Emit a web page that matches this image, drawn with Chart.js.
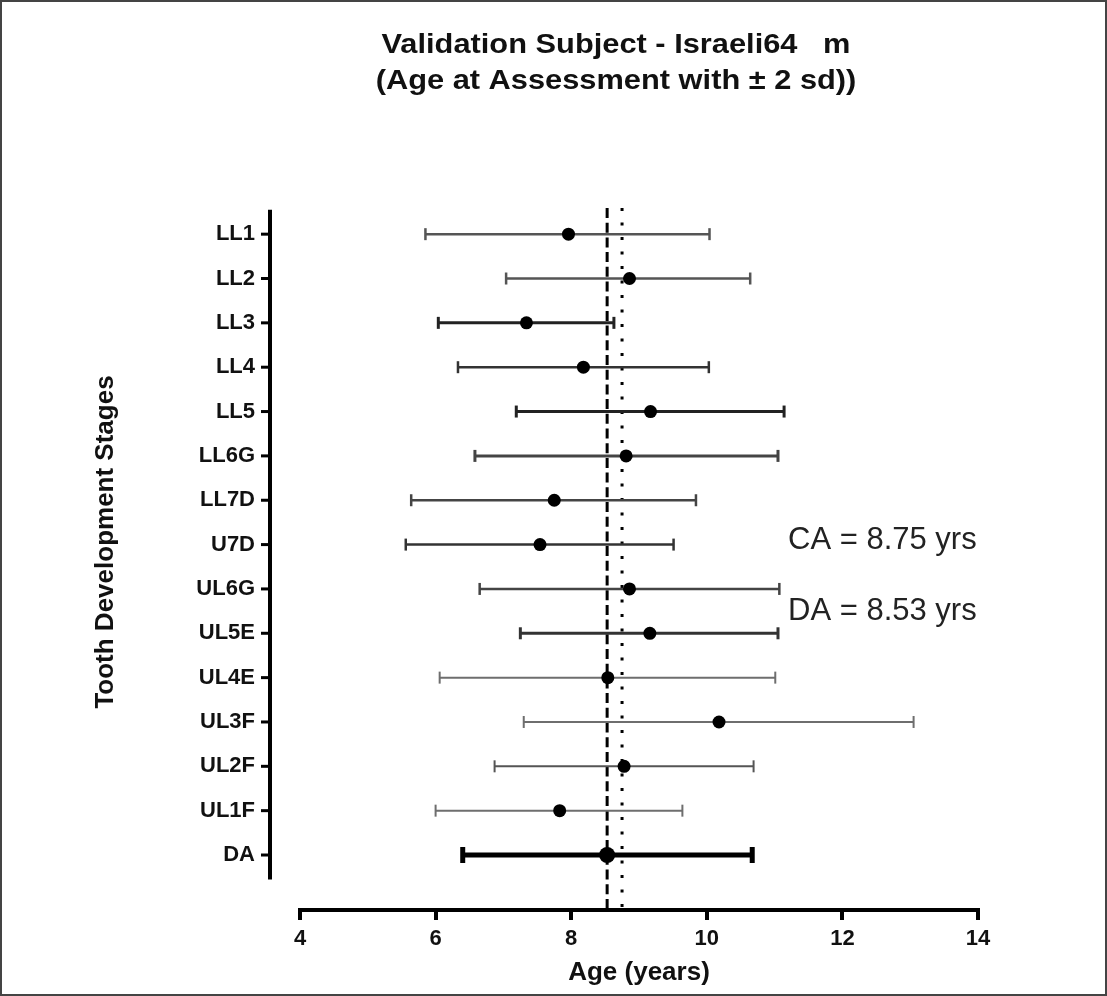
<!DOCTYPE html>
<html>
<head>
<meta charset="utf-8">
<title>Validation Subject - Israeli64 m</title>
<script src="https://cdn.jsdelivr.net/npm/chart.js@4.4.1/dist/chart.umd.min.js"></script>
<style>
html, body { margin: 0; padding: 0; background: #fff; }
#wrap { position: relative; width: 1107px; height: 996px; }
#frame { position: absolute; left: 0; top: 0; width: 1107px; height: 996px; box-sizing: border-box; border: 2px solid #444; pointer-events: none; }
</style>
</head>
<body>
<div id="wrap">
  <canvas id="myChart" width="1107" height="996"></canvas>
  <div id="frame"></div>
</div>
<script>
// data
var stages = ['LL1', 'LL2', 'LL3', 'LL4', 'LL5', 'LL6G', 'LL7D', 'U7D', 'UL6G', 'UL5E', 'UL4E', 'UL3F', 'UL2F', 'UL1F', 'DA'];
var meanAge = [7.96, 8.86, 7.34, 8.18, 9.17, 8.81, 7.75, 7.54, 8.86, 9.16, 8.54, 10.18, 8.78, 7.83, 8.53];
var lowAge = [5.85, 7.04, 6.04, 6.33, 7.19, 6.58, 5.64, 5.56, 6.65, 7.25, 6.06, 7.30, 6.87, 6.00, 6.40];
var highAge = [10.04, 10.64, 8.63, 10.03, 11.14, 11.05, 9.84, 9.51, 11.07, 11.05, 11.01, 13.05, 10.69, 9.64, 10.67];
var chronoAge = 8.75;
var dentalAge = 8.53;
var xMin = 4, xMax = 14, xStep = 2;

var titleLines = ['Validation Subject - Israeli64   m', '(Age at Assessment with \u00b1 2 sd))'];
var yTitle = 'Tooth Development Stages';

// styling per row (whisker colour / width)
var barColor = ['#555', '#555', '#222', '#333', '#222', '#444', '#444', '#333', '#444', '#333', '#6e6e6e', '#6e6e6e', '#555', '#6e6e6e', '#000'];
var barWidth = [2.5, 2.5, 3, 2.5, 3, 3, 2.5, 2.5, 2.5, 3, 2, 2, 2, 2, 5];

var FONT = 'Arial, "Liberation Sans", sans-serif';
var yMin = -0.59, yMax = 15.24;
var last = stages.length - 1;

var decorations = {
    id: 'decorations',
    afterDraw: function(chart) {
        var ctx = chart.ctx;
        var y = chart.scales.y;
        var axisX = chart.chartArea.left - 30;
        ctx.save();
        // detached y axis line + ticks
        ctx.strokeStyle = '#000';
        ctx.lineWidth = 4;
        ctx.beginPath();
        ctx.moveTo(axisX, y.getPixelForValue(-0.55));
        ctx.lineTo(axisX, y.getPixelForValue(last + 0.55));
        ctx.stroke();
        ctx.lineWidth = 3;
        stages.forEach(function(s, i) {
            var py = y.getPixelForValue(i);
            ctx.beginPath();
            ctx.moveTo(axisX - 9, py);
            ctx.lineTo(axisX, py);
            ctx.stroke();
        });

        // title, slightly wide like the original export
        ctx.fillStyle = '#111';
        ctx.textAlign = 'center';
        ctx.font = 'bold 28px ' + FONT;
        ctx.save();
        ctx.translate(616, 0);
        ctx.scale(1.1, 1);
        ctx.fillText(titleLines[0], 0, 53);
        ctx.fillText(titleLines[1], 0, 89);
        ctx.restore();

        // y axis title
        ctx.save();
        ctx.translate(113, 542);
        ctx.rotate(-Math.PI / 2);
        ctx.font = 'bold 26px ' + FONT;
        ctx.textBaseline = 'alphabetic';
        ctx.fillText(yTitle, 0, 0);
        ctx.restore();

        // CA / DA notes
        ctx.textAlign = 'left';
        ctx.fillStyle = '#222';
        ctx.font = '31px ' + FONT;
        ctx.fillText('CA = ' + chronoAge.toFixed(2) + ' yrs', 788, 549);
        ctx.fillText('DA = ' + dentalAge.toFixed(2) + ' yrs', 788, 620);
        ctx.restore();
    }
};

var whiskers = stages.map(function(s, i) {
    return {
        label: s,
        data: [{x: lowAge[i], y: i}, {x: highAge[i], y: i}],
        showLine: true,
        borderColor: barColor[i],
        borderWidth: barWidth[i],
        pointStyle: 'line',
        pointRotation: 90,
        pointRadius: i === last ? 8 : 6,
        pointBorderColor: barColor[i],
        pointBorderWidth: barWidth[i],
        pointHoverRadius: 0,
        order: 2
    };
});

var ctx = document.getElementById('myChart').getContext('2d');
var myChart = new Chart(ctx, {
    type: 'scatter',
    data: {
        datasets: [
            {
                label: 'DA',
                data: [{x: dentalAge, y: yMin}, {x: dentalAge, y: yMax}],
                showLine: true,
                borderColor: '#000',
                borderWidth: 3,
                borderDash: [10, 4.7],
                pointRadius: 0,
                order: 3
            },
            {
                label: 'CA',
                data: [{x: chronoAge, y: yMin}, {x: chronoAge, y: yMax}],
                showLine: true,
                borderColor: '#000',
                borderWidth: 3,
                borderDash: [3, 11.5],
                pointRadius: 0,
                order: 3
            }
        ].concat(whiskers, [{
            label: 'mean',
            data: stages.map(function(s, i) { return {x: meanAge[i], y: i}; }),
            backgroundColor: '#000',
            borderColor: '#000',
            pointRadius: stages.map(function(s, i) { return i === last ? 8 : 6.5; }),
            pointBorderWidth: 0,
            pointHoverRadius: 0,
            order: 1
        }])
    },
    options: {
        responsive: false,
        animation: false,
        devicePixelRatio: 1,
        layout: { padding: { top: 208, left: 0, right: 129, bottom: 0 } },
        plugins: {
            legend: { display: false },
            tooltip: { enabled: false }
        },
        scales: {
            x: {
                type: 'linear',
                position: 'bottom',
                min: xMin,
                max: xMax,
                ticks: {
                    stepSize: xStep,
                    color: '#111',
                    padding: 6,
                    font: { family: FONT, size: 22, weight: 'bold' }
                },
                grid: { drawOnChartArea: false, color: '#000', lineWidth: 4, tickLength: 10, tickWidth: 4 },
                border: { display: true, color: '#000', width: 4 },
                title: {
                    display: true,
                    text: 'Age (years)',
                    color: '#111',
                    font: { family: FONT, size: 26, weight: 'bold' },
                    padding: { top: 0, bottom: 8 }
                },
                afterFit: function(s) { s.height = 86; }
            },
            y: {
                type: 'linear',
                reverse: true,
                min: yMin,
                max: yMax,
                afterBuildTicks: function(s) {
                    s.ticks = stages.map(function(_, i) { return {value: i}; });
                },
                ticks: {
                    autoSkip: false,
                    color: '#111',
                    padding: 45,
                    font: { family: FONT, size: 22, weight: 'bold' },
                    callback: function(v) { return stages[v]; }
                },
                grid: { display: false, drawTicks: false },
                border: { display: false },
                title: { display: false },
                afterFit: function(s) { s.width = 300; }
            }
        }
    },
    plugins: [decorations]
});
</script>
</body>
</html>
